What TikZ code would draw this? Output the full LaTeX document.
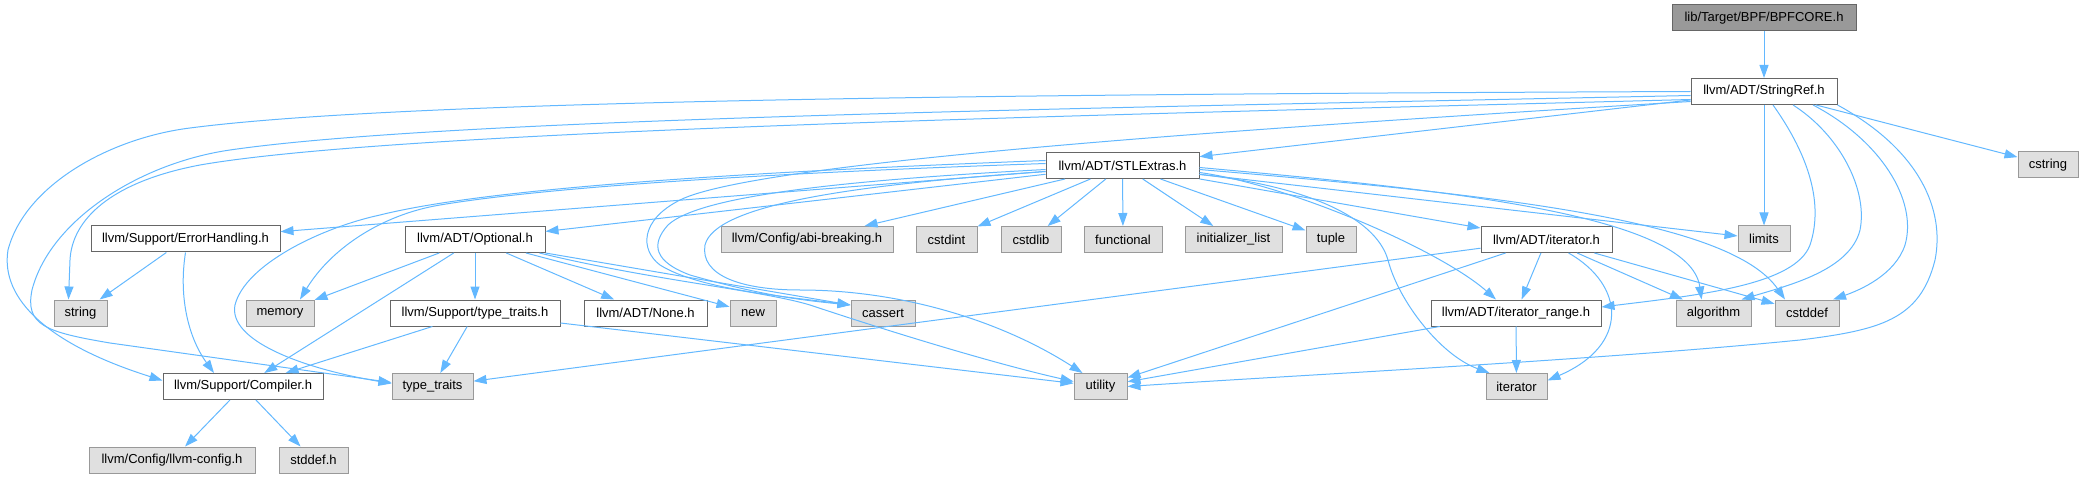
\documentclass[tikz,border=0pt]{standalone}
\usepackage{fontspec}
\setmainfont{Liberation Sans}
\usetikzlibrary{arrows.meta}
\definecolor{edgeblue}{HTML}{63B8FF}
\definecolor{rootfill}{HTML}{999999}
\definecolor{dkframe}{HTML}{666666}
\definecolor{sysfill}{HTML}{E0E0E0}
\definecolor{sysframe}{HTML}{999999}

\begin{document}
\begin{tikzpicture}[
  x=1pt, y=-1pt,
  >={Triangle[length=13pt, width=9pt]},
  box/.style={draw, line width=1pt, minimum height=26pt, inner sep=0pt,
    font=\fontsize{13}{15}\selectfont, text=black, anchor=center},
  rootbox/.style={box, draw=dkframe, fill=rootfill, minimum width=#1},
  hdrbox/.style={box, draw=dkframe, fill=white, minimum width=#1},
  sysbox/.style={box, draw=sysframe, fill=sysfill, minimum width=#1},
  dep/.style={->, draw=edgeblue, line width=1pt},
]

\useasboundingbox (0,0) rectangle (2084,478);

% ---- Row 0 / 1 ----
\node[rootbox=184pt] (bpf) at (1764,18) {lib/Target/BPF/BPFCORE.h};
\node[hdrbox=146pt] (sref) at (1764,91.5) {llvm/ADT/StringRef.h};

% ---- Row 2 ----
\node[hdrbox=153pt] (stlx) at (1122.5,165.5) {llvm/ADT/STLExtras.h};
\node[sysbox=60pt] (cstring) at (2048,165) {cstring};

% ---- Row 3 ----
\node[hdrbox=189pt] (errh) at (185.5,239) {llvm/Support/ErrorHandling.h};
\node[hdrbox=140pt] (opt) at (475,239.5) {llvm/ADT/Optional.h};
\node[sysbox=172pt] (abi) at (807,239.5) {llvm/Config/abi-breaking.h};
\node[sysbox=61pt] (cstdint) at (946.5,239.5) {cstdint};
\node[sysbox=60pt] (cstdlib) at (1031,239.5) {cstdlib};
\node[sysbox=78pt] (functional) at (1123,239.5) {functional};
\node[sysbox=97pt] (initlist) at (1233.5,239.5) {initializer\_list};
\node[sysbox=50pt] (tuple) at (1331,239.5) {tuple};
\node[hdrbox=131pt] (iter) at (1546.5,239.5) {llvm/ADT/iterator.h};
\node[sysbox=52pt] (limits) at (1764,239) {limits};

% ---- Row 4 ----
\node[sysbox=53pt] (string) at (80.5,313) {string};
\node[sysbox=68pt] (memory) at (280,313) {memory};
\node[hdrbox=170pt] (stt) at (475,313) {llvm/Support/type\_traits.h};
\node[hdrbox=123pt] (none) at (645.5,313) {llvm/ADT/None.h};
\node[sysbox=46pt] (new) at (753,313) {new};
\node[sysbox=64pt] (cassert) at (883,313) {cassert};
\node[hdrbox=170pt] (irange) at (1516,313) {llvm/ADT/iterator\_range.h};
\node[sysbox=75pt] (algorithm) at (1713.5,313) {algorithm};
\node[sysbox=64pt] (cstddef) at (1807,313) {cstddef};

% ---- Row 5 ----
\node[hdrbox=160pt] (compiler) at (243,386.5) {llvm/Support/Compiler.h};
\node[sysbox=81pt] (typetraits) at (432.5,386.5) {type\_traits};
\node[sysbox=53pt] (utility) at (1100.5,386.5) {utility};
\node[sysbox=61pt] (iterator) at (1516.5,386.5) {iterator};

% ---- Row 6 ----
\node[sysbox=166pt] (llvmcfg) at (172,460) {llvm/Config/llvm-config.h};
\node[sysbox=69pt] (stddef) at (313.5,460) {stddef.h};

% ---- BPFCORE.h ----
\draw[dep] (bpf) -- (sref);

% ---- StringRef.h ----
\draw[dep] (sref) -- (stlx);
\draw[dep] (sref) -- (cstring);
\draw[dep] (sref) -- (limits);
\draw[dep] (sref.west) .. controls (1100,94) and (420,98) .. (190,128)
  .. controls (110,138) and (25,185) .. (8,250)
  .. controls (0,300) and (50,345) .. ([yshift=6pt]compiler.west);
\draw[dep] ([yshift=-4pt]sref.west) .. controls (1100,108) and (450,118) .. (230,150)
  .. controls (140,163) and (50,220) .. (32,290)
  .. controls (25,325) and (45,332) .. (110,343)
  -- ([yshift=4pt]typetraits.west);
\draw[dep] ([yshift=-8pt]sref.west) .. controls (1100,115) and (400,130) .. (200,165)
  .. controls (110,182) and (72,220) .. (70,260)
  -- ([xshift=-12pt]string.north);
\draw[dep] ([yshift=-10pt]sref.west) .. controls (1300,125) and (760,160) .. (680,200)
  .. controls (640,220) and (640,250) .. (660,265)
  .. controls (700,290) and (790,297) .. ([yshift=8pt]cassert.west);
\draw[dep] ([xshift=9pt]sref.south) .. controls (1805,150) and (1825,200) .. (1810,245)
  .. controls (1795,285) and (1700,295) .. ([yshift=6pt]irange.east);
\draw[dep] ([xshift=29pt]sref.south) .. controls (1840,135) and (1868,190) .. (1860,230)
  .. controls (1850,270) and (1790,285) .. ([xshift=28pt]algorithm.north);
\draw[dep] ([xshift=49pt]sref.south) .. controls (1880,140) and (1918,200) .. (1905,245)
  .. controls (1895,275) and (1860,290) .. ([xshift=26pt]cstddef.north);
\draw[dep] (sref.south east) .. controls (1920,150) and (1945,210) .. (1935,260)
  .. controls (1920,320) and (1880,330) .. (1800,340)
  .. controls (1600,360) and (1300,375) .. (utility.east);

% ---- STLExtras.h ----
\draw[dep] (stlx) -- (errh);
\draw[dep] (stlx) -- (opt);
\draw[dep] (stlx) -- (abi);
\draw[dep] (stlx) -- (cstdint);
\draw[dep] (stlx) -- (cstdlib);
\draw[dep] (stlx) -- (functional);
\draw[dep] (stlx) -- (initlist);
\draw[dep] (stlx) -- (tuple);
\draw[dep] (stlx) -- (iter);
\draw[dep] (stlx) -- (limits);
\draw[dep] ([yshift=-7pt]stlx.east) .. controls (1290,185) and (1440,250) .. ([xshift=-20pt]irange.north);
\draw[dep] ([yshift=-2pt]stlx.east) .. controls (1450,190) and (1690,215) .. ([xshift=-12pt]algorithm.north);
\draw[dep] ([yshift=-4pt]stlx.east) .. controls (1500,195) and (1730,220) .. ([xshift=-22pt]cstddef.north);
\draw[dep] ([yshift=-9pt]stlx.east) .. controls (1300,185) and (1375,215) .. (1388,260)
  .. controls (1398,300) and (1440,355) .. ([xshift=4pt]iterator.north west);
\draw[dep] ([yshift=2pt]stlx.west) .. controls (800,172) and (560,185) .. (440,205)
  .. controls (380,215) and (330,250) .. ([xshift=20pt]memory.north);
\draw[dep] ([yshift=5pt]stlx.west) .. controls (800,170) and (500,185) .. (380,215)
  .. controls (320,228) and (245,265) .. (235,305)
  .. controls (228,340) and (300,368) .. ([yshift=3pt]typetraits.west);
\draw[dep] ([yshift=-4pt]stlx.west) .. controls (850,180) and (700,195) .. (668,225)
  .. controls (650,245) and (655,262) .. (690,275)
  .. controls (760,295) and (800,300) .. ([yshift=8pt]cassert.west);
\draw[dep] ([yshift=-6pt]stlx.west) .. controls (850,185) and (715,205) .. (705,245)
  .. controls (700,275) and (740,290) .. (800,290)
  .. controls (900,290) and (1000,320) .. ([xshift=-18pt]utility.north);

% ---- ErrorHandling.h ----
\draw[dep] (errh) -- (string);
\draw[dep] (errh.south) .. controls (178,300) and (190,340) .. ([xshift=-29pt]compiler.north);

% ---- Optional.h ----
\draw[dep] (opt) -- (memory);
\draw[dep] (opt) -- (compiler);
\draw[dep] (opt) -- (stt);
\draw[dep] (opt) -- (none);
\draw[dep] (opt) -- (new);
\draw[dep] (opt.south east) -- ([yshift=8pt]cassert.west);
\draw[dep] ([xshift=-6pt]opt.south east) .. controls (650,280) and (760,290) .. (810,305)
  .. controls (900,335) and (1000,365) .. ([yshift=5pt]utility.west);

% ---- Support/type_traits.h ----
\draw[dep] (stt) -- (compiler);
\draw[dep] (stt) -- (typetraits);
\draw[dep] (stt) -- (utility);

% ---- iterator.h ----
\draw[dep] (iter) -- (typetraits);
\draw[dep] (iter) -- (utility);
\draw[dep] (iter) -- (irange);
\draw[dep] (iter) -- (algorithm);
\draw[dep] (iter) -- (cstddef);
\draw[dep] ([xshift=22pt]iter.south) .. controls (1625,285) and (1630,345) .. ([yshift=6pt]iterator.east);

% ---- iterator_range.h ----
\draw[dep] (irange) -- (iterator);
\draw[dep] (irange) -- (utility);

% ---- Compiler.h ----
\draw[dep] (compiler) -- (llvmcfg);
\draw[dep] (compiler) -- (stddef);

\end{tikzpicture}
\end{document}
